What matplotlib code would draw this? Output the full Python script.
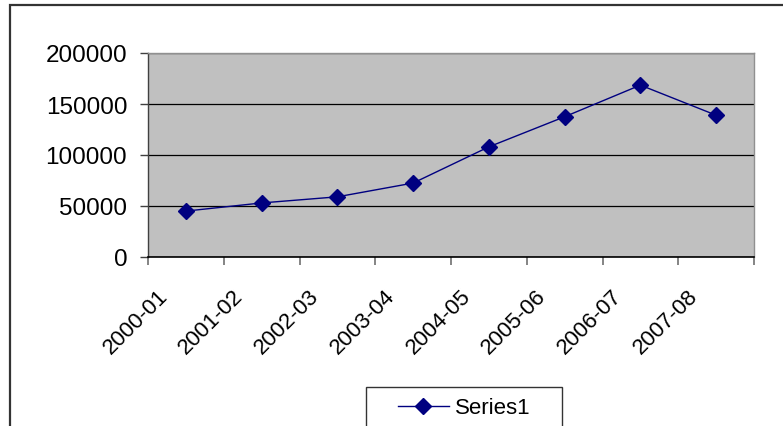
import matplotlib
matplotlib.use("Agg")
import matplotlib.pyplot as plt
from matplotlib.patches import Rectangle
from matplotlib.ticker import FixedLocator
import matplotlib.transforms as mtransforms

categories = ["2000-01", "2001-02", "2002-03", "2003-04", "2004-05", "2005-06", "2006-07", "2007-08"]
values = [45000, 53000, 59000, 72500, 108000, 137500, 168500, 139000]
yticks = [0, 50000, 100000, 150000, 200000]
series_name = "Series1"

plt.rcParams['font.family'] = ['Liberation Sans', 'DejaVu Sans']

W, H = 783, 427
fig = plt.figure(figsize=(W / 100, H / 100), dpi=100)

# chart-area border (extends off the right and bottom edges)
fig.patches.append(Rectangle((10 / W, 0 - 0.05), 1.1, 1 - 6 / H + 0.05, transform=fig.transFigure,
                             fill=False, edgecolor="#333333", linewidth=1.6, zorder=0))

ax = fig.add_axes([148 / W, 1 - 258 / H, (754 - 148) / W, (258 - 54) / H])
ax.set_facecolor("#C0C0C0")

x = list(range(len(categories)))
line, = ax.plot(x, values, color="#000080", linewidth=1.0, marker="D", markersize=8,
                markerfacecolor="#000080", markeredgecolor="#000080", label=series_name, zorder=3)

ax.set_xlim(-0.5, len(categories) - 0.5)
ax.set_ylim(0, 200000)
ax.set_yticks(yticks)
ax.set_yticklabels([str(v) for v in yticks])
ax.yaxis.grid(True, color="black", linewidth=0.9)
ax.set_axisbelow(True)

ax.set_xticks(x)
ax.set_xticklabels(categories, rotation=45, ha="right")
ax.xaxis.set_minor_locator(FixedLocator([i - 0.5 for i in range(len(categories) + 1)]))
ax.tick_params(axis="x", which="major", length=0, pad=20, labelsize=16)
ax.tick_params(axis="x", which="minor", length=6, width=1.2, color="#707070", direction="out")
ax.tick_params(axis="y", length=6, width=1.0, color="#404040", pad=9, labelsize=17.5)

offset = mtransforms.ScaledTranslation(-14 / 100, 0, fig.dpi_scale_trans)
for lab in ax.get_xticklabels():
    lab.set_transform(lab.get_transform() + offset)

for s in ("top", "right"):
    ax.spines[s].set_color("#909090")
    ax.spines[s].set_linewidth(1.0)
ax.spines["left"].set_color("#404040")
ax.spines["left"].set_linewidth(1.0)
ax.spines["bottom"].set_color("black")
ax.spines["bottom"].set_linewidth(1.2)

# legend box
fig.patches.append(Rectangle((366 / W, -0.05), (562 - 366) / W, 1 - 388 / H + 0.05,
                             transform=fig.transFigure, fill=True, facecolor="white",
                             edgecolor="#333333", linewidth=1.0, zorder=1))
leg = fig.legend(handles=[line], loc="center", bbox_to_anchor=(464 / W, 1 - 409 / H),
                 frameon=False, fontsize=16, handlelength=2.3, handletextpad=0.25,
                 borderpad=0, borderaxespad=0)

fig.savefig("out.png", dpi=100)
